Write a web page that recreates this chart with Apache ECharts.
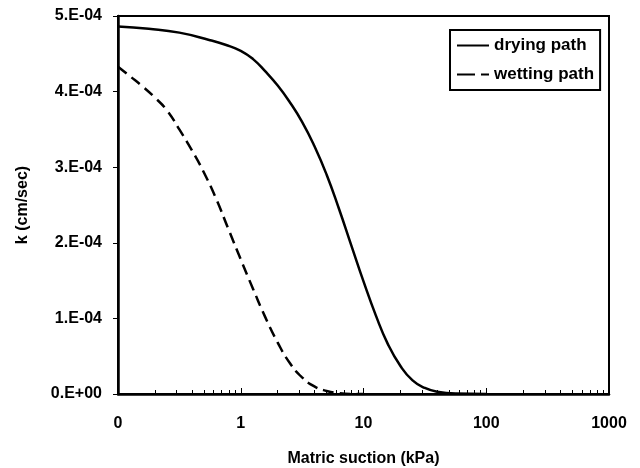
<!DOCTYPE html>
<html>
<head>
<meta charset="utf-8">
<script src="https://cdn.jsdelivr.net/npm/echarts@6/dist/echarts.min.js"></script>
<style>
  html, body { margin: 0; padding: 0; background: #fff; }
  #main { width: 640px; height: 468px; }
</style>
</head>
<body>
<div id="main"></div>
<script>
// matric suction (kPa) and permeability k (cm/sec)
var dryPsi = [0.1, 0.178, 0.316, 0.562, 0.75, 1, 1.26, 1.58, 2, 2.51, 3.16, 3.98, 5.01, 6.31, 7.94, 10, 12.6, 15.8, 20, 25.1, 31.6, 39.8, 56.2, 100];
var dryK = [4.86e-4, 4.83e-4, 4.78e-4, 4.68e-4, 4.62e-4, 4.54e-4, 4.43e-4, 4.27e-4, 4.08e-4, 3.86e-4, 3.60e-4, 3.28e-4, 2.90e-4, 2.45e-4, 1.97e-4, 1.49e-4, 1.04e-4, 0.66e-4, 0.37e-4, 0.18e-4, 0.08e-4, 0.03e-4, 0.005e-4, 0];

var wetPsi = [0.1, 0.126, 0.158, 0.2, 0.251, 0.316, 0.398, 0.501, 0.631, 0.794, 1, 1.26, 1.58, 2, 2.51, 3.16, 3.98, 5.01, 6.31, 7.94, 10];
var wetK = [4.33e-4, 4.20e-4, 4.07e-4, 3.92e-4, 3.75e-4, 3.50e-4, 3.23e-4, 2.93e-4, 2.58e-4, 2.18e-4, 1.78e-4, 1.39e-4, 1.02e-4, 0.68e-4, 0.41e-4, 0.22e-4, 0.10e-4, 0.04e-4, 0.01e-4, 0, 0];

var seriesNames = ['drying path', 'wetting path'];

function zip(xs, ys) {
    return xs.map(function (x, i) { return [x, ys[i]]; });
}

// Excel style "5.E-04"
function sciLabel(v) {
    if (v === 0) return '0.E+00';
    var parts = v.toExponential(0).split('e');
    var exp = parseInt(parts[1], 10);
    var sign = exp < 0 ? '-' : '+';
    var e = Math.abs(exp);
    return parts[0] + '.E' + sign + (e < 10 ? '0' + e : e);
}

var font = 'Liberation Sans, Arial, sans-serif';
var myChart = echarts.init(document.getElementById('main'));

option = {
    backgroundColor: '#fff',
    animation: false,
    grid: {
        left: 118,
        right: 31,
        top: 16,
        bottom: 74,
        outerBoundsMode: 'none',
        show: true,
        borderColor: '#000',
        borderWidth: 2
    },
    legend: {
        data: [
            { name: seriesNames[0] },
            { name: seriesNames[1], lineStyle: { type: [18, 6] } }
        ],
        orient: 'vertical',
        left: 450,
        top: 30,
        itemWidth: 32,
        itemHeight: 14,
        itemGap: 12,
        padding: [7, 6, 7, 6],
        borderColor: '#000',
        borderWidth: 2,
        itemStyle: { opacity: 0 },
        textStyle: {
            fontFamily: font,
            fontSize: 17,
            fontWeight: 'bold',
            color: '#000'
        }
    },
    xAxis: {
        type: 'log',
        logBase: 10,
        min: 0.1,
        max: 1000,
        name: 'Matric suction (kPa)',
        nameLocation: 'middle',
        nameGap: 57,
        nameTextStyle: {
            fontFamily: font,
            fontSize: 16,
            fontWeight: 'bold',
            color: '#000'
        },
        axisLine: { lineStyle: { color: '#000', width: 2.5 } },
        axisTick: { inside: true, length: 6, lineStyle: { color: '#000', width: 1 } },
        minorTick: { show: true, splitNumber: 9, length: 4, lineStyle: { color: '#000', width: 1 } },
        splitLine: { show: false },
        axisLabel: {
            margin: 22,
            fontFamily: font,
            fontSize: 16,
            fontWeight: 'bold',
            color: '#000',
            formatter: function (v) { return String(Math.round(v)); }
        }
    },
    yAxis: {
        type: 'value',
        min: 0,
        max: 5e-4,
        interval: 1e-4,
        name: 'k (cm/sec)',
        nameLocation: 'middle',
        nameGap: 87,
        nameTextStyle: {
            fontFamily: font,
            fontSize: 16,
            fontWeight: 'bold',
            color: '#000'
        },
        axisLine: { show: true, lineStyle: { color: '#000', width: 2.5 } },
        axisTick: { show: true, length: 5, lineStyle: { color: '#000', width: 1 } },
        splitLine: { show: false },
        axisLabel: {
            margin: 16,
            fontFamily: font,
            fontSize: 16,
            fontWeight: 'bold',
            color: '#000',
            formatter: sciLabel
        }
    },
    series: [{
        name: seriesNames[0],
        type: 'line',
        smooth: 0.5,
        symbol: 'none',
        data: zip(dryPsi, dryK),
        lineStyle: { color: '#000', width: 2.5, type: 'solid' },
        itemStyle: { color: '#000' }
    }, {
        name: seriesNames[1],
        type: 'line',
        smooth: 0.5,
        symbol: 'none',
        data: zip(wetPsi, wetK),
        lineStyle: { color: '#000', width: 2.5, type: [11, 6] },
        itemStyle: { color: '#000' }
    }]
};
myChart.setOption(option);
</script>
</body>
</html>
